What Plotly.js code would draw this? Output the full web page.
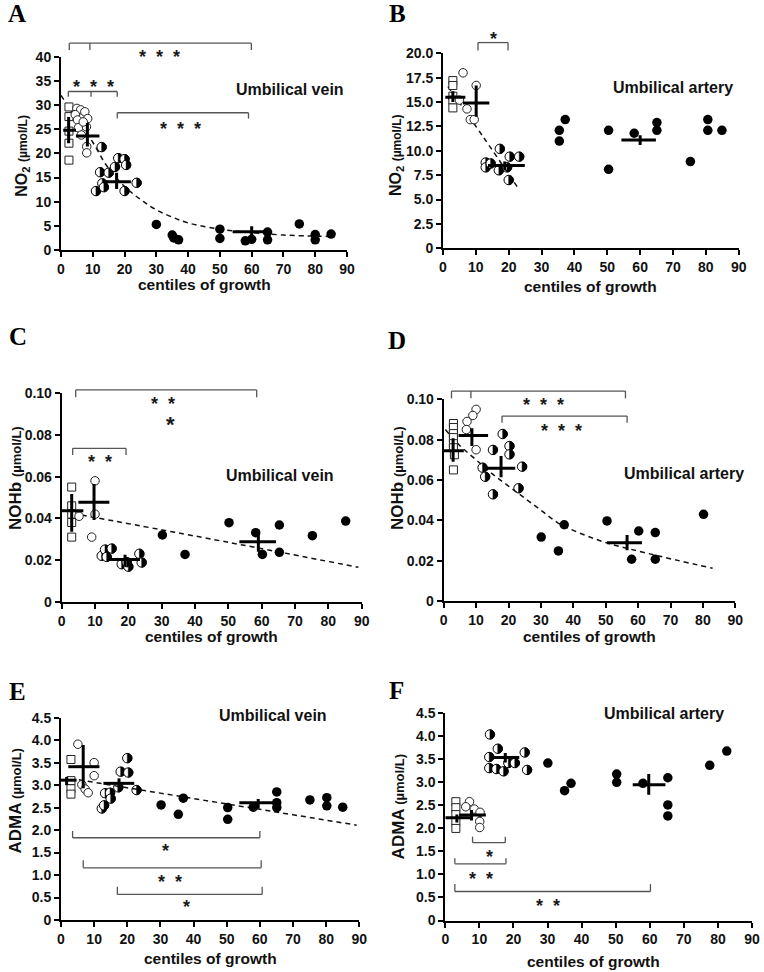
<!DOCTYPE html>
<html><head><meta charset="utf-8">
<script src="https://cdn.plot.ly/plotly-3.0.1.min.js"></script>
<style>html,body{margin:0;padding:0;background:#fff}</style>
</head><body><div id="chart" style="width:764px;height:972px"></div>
<script>
// ---------------- DATA ----------------
// Panel A: NO2, umbilical vein
const aSqX = [2.5, 2.5, 2.5, 2.5, 2.5];
const aSqY = [29.6, 27.6, 24.6, 22.1, 18.6];
const aCiX = [5, 6.2, 7.5, 8.4, 4.5, 5.2, 5.5, 6.4, 8, 7, 8.1, 8.1];
const aCiY = [29.3, 29, 28.6, 27.2, 28, 26.9, 25.3, 23.8, 25.5, 26.5, 21.4, 20.1];
const aHaX = [12.8, 12.3, 11, 13, 13.5, 15, 17, 18, 20, 20.5, 20, 23.8];
const aHaY = [21.3, 16.1, 12.2, 13.8, 13, 16, 17.2, 19, 18.8, 17.6, 12.2, 13.9];
const aFiX = [30, 35, 35.5, 37, 50, 50, 58, 60, 65, 65, 75, 80, 80, 85];
const aFiY = [5.3, 3.1, 2.5, 2.1, 4.3, 2.4, 1.9, 2.2, 3.7, 2.1, 5.4, 3.2, 2.1, 3.3];
const aMeanX = [2.4, 8.3, 17.5, 60];
const aMeanY = [24.8, 23.6, 14.1, 3.8];
const aTop = [27.5, 26.3, 16.0, 4.9];
const aBot = [22.1, 21.4, 12.6, 2.6];
const aLeft = [0.7, 4.7, 13.3, 54];
const aRight = [4.7, 12.1, 22.0, 66];
const aFitX = [0, 5, 10, 14, 18, 22, 26, 30, 35, 40, 50, 60, 70, 85];
const aFitY = [32, 27, 22.3, 17.8, 14.5, 12, 10, 8.3, 6.8, 5.6, 4.3, 3.6, 3.1, 2.8];

// Panel B: NO2, umbilical artery
const bSqX = [3, 3, 3, 3, 3];
const bSqY = [17.2, 16.7, 15.6, 15.2, 14.4];
const bCiX = [6.1, 10.1, 7.3, 8.3, 9.5, 5];
const bCiY = [18.0, 16.7, 14.3, 13.2, 13.2, 15.2];
const bHaX = [17.3, 20.3, 23.2, 13, 13, 14.5, 17, 20, 19.5];
const bHaY = [10.2, 9.4, 9.4, 8.8, 8.3, 8.7, 8.0, 7.0, 8.3];
const bFiX = [35.4, 35.4, 37.2, 50.4, 50.4, 58.2, 65.1, 65.1, 75.3, 80.6, 80.6, 84.9];
const bFiY = [12.1, 11.0, 13.2, 12.1, 8.1, 11.8, 12.9, 12.1, 8.9, 13.2, 12.1, 12.1];
const bMeanX = [3.0, 10.1, 18.8, 60];
const bMeanY = [15.5, 14.9, 8.5, 11.1];
const bTop = [16.1, 16.7, 8.9, 11.6];
const bBot = [15.0, 13.5, 8.0, 10.6];
const bLeft = [0.7, 6.1, 13.7, 54.3];
const bRight = [6.8, 14.1, 24.9, 64.8];
const bFitX = [1.5, 12.3, 23.2];
const bFitY = [16.6, 11.4, 6.0];

// Panel C: NOHb, umbilical vein
const cSqX = [3, 3, 3, 3, 3];
const cSqY = [0.055, 0.046, 0.042, 0.038, 0.031];
const cCiX = [10, 10, 5.2, 9];
const cCiY = [0.058, 0.042, 0.041, 0.031];
const cHaX = [12, 13, 15, 13.5, 18, 20, 19.5, 23.3, 24];
const cHaY = [0.022, 0.025, 0.0255, 0.0215, 0.018, 0.0168, 0.019, 0.023, 0.0188];
const cFiX = [30.2, 37, 50.2, 58.2, 60.2, 65.3, 65.3, 75.2, 85.2];
const cFiY = [0.032, 0.0227, 0.0379, 0.0331, 0.0227, 0.0368, 0.0237, 0.0317, 0.0387];
const cMeanX = [3.0, 9.7, 19, 59];
const cMeanY = [0.0437, 0.0477, 0.0203, 0.0288];
const cTop = [0.0517, 0.0565, 0.0225, 0.0344];
const cBot = [0.0336, 0.0392, 0.0170, 0.0240];
const cLeft = [0, 5.0, 14.3, 53.3];
const cRight = [6.5, 14.3, 23.5, 64.3];
const cFitX = [3.3, 50, 89];
const cFitY = [0.0424, 0.0285, 0.0165];

// Panel D: NOHb, umbilical artery
const dSqX = [3, 3, 3, 3, 3, 3, 3.3, 3];
const dSqY = [0.088, 0.086, 0.083, 0.081, 0.078, 0.076, 0.0725, 0.065];
const dCiX = [10, 9, 7.2, 7, 10];
const dCiY = [0.095, 0.092, 0.089, 0.085, 0.075];
const dHaX = [18.2, 15.2, 20.3, 20.3, 12, 12.8, 24.2, 15.2, 23.1];
const dHaY = [0.0828, 0.0749, 0.0768, 0.0727, 0.0661, 0.0616, 0.0666, 0.0529, 0.0559];
const dFiX = [30.1, 35.4, 37.2, 50.4, 58, 60.2, 65.3, 65.3, 80.2];
const dFiY = [0.0317, 0.0248, 0.0378, 0.0397, 0.0207, 0.0347, 0.0339, 0.0207, 0.043];
const dMeanX = [2.9, 8.7, 17.7, 56.6];
const dMeanY = [0.0745, 0.082, 0.0658, 0.0289];
const dTop = [0.0807, 0.0856, 0.0719, 0.0327];
const dBot = [0.0691, 0.0768, 0.0613, 0.0251];
const dLeft = [0, 4.6, 12.8, 50.4];
const dRight = [6.2, 13.7, 22.1, 61.2];
const dFitX = [0.5, 5, 10, 15, 20, 25, 30, 35, 40, 50, 63, 83];
const dFitY = [0.085, 0.077, 0.070, 0.063, 0.057, 0.051, 0.045, 0.039, 0.035, 0.029, 0.0236, 0.0162];

// Panel E: ADMA, umbilical vein
const eSqX = [3, 3, 3, 3];
const eSqY = [3.57, 3.1, 2.92, 2.8];
const eCiX = [5.1, 10, 10, 6.3, 7.3, 8.2];
const eCiY = [3.91, 3.5, 3.21, 3.01, 2.91, 2.83];
const eHaX = [20, 18, 20.3, 13.3, 14.8, 15, 12.3, 13, 22.8, 17.3];
const eHaY = [3.6, 3.3, 3.28, 2.82, 2.83, 2.7, 2.48, 2.55, 2.89, 2.95];
const eFiX = [30.2, 35.4, 36.9, 50.3, 50.3, 58, 65.1, 65.1, 65.1, 75.1, 80.2, 80.2, 85];
const eFiY = [2.56, 2.35, 2.71, 2.5, 2.24, 2.51, 2.85, 2.61, 2.5, 2.67, 2.72, 2.54, 2.51];
const eMeanX = [1.7, 6.7, 17.5, 59.5];
const eMeanY = [3.11, 3.41, 3.04, 2.61];
const eTop = [3.18, 3.89, 3.15, 2.69];
const eBot = [3.0, 2.93, 2.86, 2.48];
const eLeft = [0, 2.2, 12.8, 53.8];
const eRight = [4.7, 11.6, 22.1, 65.3];
const eFitX = [2.7, 89.2];
const eFitY = [3.15, 2.11];

// Panel F: ADMA, umbilical artery
const fSqX = [3.1, 3.1, 3.1, 3.1, 3.1];
const fSqY = [2.58, 2.45, 2.3, 2.15, 2.0];
const fCiX = [7.1, 6.0, 8.5, 10.2, 10.1, 10.1];
const fCiY = [2.58, 2.47, 2.42, 2.35, 2.15, 2.02];
const fHaX = [13.1, 15.4, 12.9, 18.5, 20.4, 23.3, 12.9, 15, 17.1, 24];
const fHaY = [4.04, 3.73, 3.55, 3.42, 3.42, 3.65, 3.31, 3.29, 3.24, 3.27];
const fFiX = [30.1, 35, 36.9, 50.3, 50.3, 58, 65.3, 65.3, 65.3, 77.6, 82.6];
const fFiY = [3.42, 2.82, 2.98, 3.18, 3.0, 2.98, 3.1, 2.51, 2.27, 3.37, 3.68];
const fMeanX = [3.4, 7.7, 17.6, 59.7];
const fMeanY = [2.23, 2.29, 3.54, 2.95];
const fTop = [2.3, 2.4, 3.64, 3.18];
const fBot = [2.13, 2.17, 3.43, 2.73];
const fLeft = [0, 4.1, 13.7, 55];
const fRight = [7.3, 11.9, 21.7, 64.6];

// axis tick labels
const xTicks = [0, 10, 20, 30, 40, 50, 60, 70, 80, 90];
const yTicksA = [0, 5, 10, 15, 20, 25, 30, 35, 40];
const yTextA = ['0', '5', '10', '15', '20', '25', '30', '35', '40'];
const yTicksB = [0, 2.5, 5, 7.5, 10, 12.5, 15, 17.5, 20];
const yTextB = ['0', '2.5', '5.0', '7.5', '10.0', '12.5', '15.0', '17.5', '20.0'];
const yTicksCD = [0, 0.02, 0.04, 0.06, 0.08, 0.10];
const yTextCD = ['0', '0.02', '0.04', '0.06', '0.08', '0.10'];
const yTicksEF = [0, 0.5, 1, 1.5, 2, 2.5, 3, 3.5, 4, 4.5];
const yTextEF = ['0', '0.5', '1.0', '1.5', '2.0', '2.5', '3.0', '3.5', '4.0', '4.5'];

// significance brackets (tick positions on x, bar level, tick end) and stars
const bracketsA = [{ticks: [2.6, 9.1, 59.9], y: 42.8, tip: 41.4}, {ticks: [2.3, 9.45, 17.7], y: 32.8, tip: 31.7}, {ticks: [17.7, 59.0], y: 28.4, tip: 27.2}];
const starsA = [{x: 31, y: 40.7, t: '***'}, {x: 10.2, y: 34.5, t: '***'}, {x: 37.5, y: 25.9, t: '***'}];
const bracketsB = [{ticks: [10.65, 19.8], y: 21.1, tip: 20.3}];
const starsB = [{x: 15.4, y: 21.9, t: '*'}];
const bracketsC = [{ticks: [4.2, 58.5], y: 0.1016, tip: 0.0981}, {ticks: [3.3, 19.3], y: 0.0736, tip: 0.0704}];
const starsC = [{x: 30.5, y: 0.0968, t: '**'}, {x: 32.5, y: 0.0872, t: '*', big: true}, {x: 11.5, y: 0.0688, t: '**'}];
const bracketsD = [{ticks: [2.4, 8.4, 56.1], y: 0.1041, tip: 0.1005}, {ticks: [18, 56.6], y: 0.0917, tip: 0.0884}];
const starsD = [{x: 30.9, y: 0.0992, t: '***'}, {x: 36.3, y: 0.0861, t: '***'}];
const bracketsE = [{ticks: [3.5, 60], y: 1.83, tip: 1.98}, {ticks: [6.7, 60.4], y: 1.16, tip: 1.33}, {ticks: [17, 60.7], y: 0.57, tip: 0.74}];
const starsE = [{x: 31.4, y: 1.63, t: '*'}, {x: 32.9, y: 0.93, t: '**'}, {x: 37.9, y: 0.37, t: '*'}];
const bracketsF = [{ticks: [8, 17.6], y: 1.69, tip: 1.82}, {ticks: [2.8, 17.8], y: 1.23, tip: 1.35}, {ticks: [2.8, 60.2], y: 0.63, tip: 0.79}];
const starsF = [{x: 12.9, y: 1.46, t: '*'}, {x: 10.6, y: 0.99, t: '**'}, {x: 30.1, y: 0.41, t: '**'}];

// ---------------- LAYOUT CONFIG ----------------
const W = 764, H = 972;
const panels = [
  {id: '', letter: 'A', box: [61, 347, 56.7, 250], yr: 40, yt: yTicksA, ytt: yTextA,
   sq: [aSqX, aSqY], ci: [aCiX, aCiY], ha: [aHaX, aHaY], fi: [aFiX, aFiY],
   m: [aMeanX, aMeanY, aTop, aBot, aLeft, aRight], fit: [aFitX, aFitY], br: bracketsA, st: starsA,
   lab: [17, 14], title: ['Umbilical vein', 290, 90], ytitle: ['NO<sub>2</sub> <span style="font-size:12px">(µmol/L)</span>', 21.7, 156, 16], xt: [204, 285]},
  {id: '2', letter: 'B', box: [443, 738.7, 53.3, 248.3], yr: 20, yt: yTicksB, ytt: yTextB,
   sq: [bSqX, bSqY], ci: [bCiX, bCiY], ha: [bHaX, bHaY], fi: [bFiX, bFiY],
   m: [bMeanX, bMeanY, bTop, bBot, bLeft, bRight], fit: [bFitX, bFitY], br: bracketsB, st: starsB,
   lab: [397, 14], title: ['Umbilical artery', 673, 87.3], ytitle: ['NO<sub>2</sub> <span style="font-size:12px">(µmol/L)</span>', 397, 155, 16], xt: [590.5, 286.7]},
  {id: '3', letter: 'C', box: [61.7, 361.7, 393.3, 601.7], yr: 0.10, yt: yTicksCD, ytt: yTextCD,
   sq: [cSqX, cSqY], ci: [cCiX, cCiY], ha: [cHaX, cHaY], fi: [cFiX, cFiY],
   m: [cMeanX, cMeanY, cTop, cBot, cLeft, cRight], fit: [cFitX, cFitY], br: bracketsC, st: starsC,
   lab: [17.5, 336.5], title: ['Umbilical vein', 279.7, 475], ytitle: ['NOHb <span style="font-size:13px">(µmol/L)</span>', 15, 478, 17], xt: [211.7, 636]},
  {id: '4', letter: 'D', box: [443.7, 735.3, 399.3, 601], yr: 0.10, yt: yTicksCD, ytt: yTextCD,
   sq: [dSqX, dSqY], ci: [dCiX, dCiY], ha: [dHaX, dHaY], fi: [dFiX, dFiY],
   m: [dMeanX, dMeanY, dTop, dBot, dLeft, dRight], fit: [dFitX, dFitY], br: bracketsD, st: starsD,
   lab: [397, 340], title: ['Umbilical artery', 683.7, 473.3], ytitle: ['NOHb <span style="font-size:13px">(µmol/L)</span>', 397, 478, 17], xt: [589.5, 636]},
  {id: '5', letter: 'E', box: [61, 359.3, 717.7, 920], yr: 4.5, yt: yTicksEF, ytt: yTextEF,
   sq: [eSqX, eSqY], ci: [eCiX, eCiY], ha: [eHaX, eHaY], fi: [eFiX, eFiY],
   m: [eMeanX, eMeanY, eTop, eBot, eLeft, eRight], fit: [eFitX, eFitY], br: bracketsE, st: starsE,
   lab: [17.5, 691.5], title: ['Umbilical vein', 272.7, 715.7], ytitle: ['ADMA<span style="font-size:13px"> (µmol/L)</span>', 15, 801.5, 17], xt: [210.2, 958.3]},
  {id: '6', letter: 'F', box: [445.3, 752, 713.3, 920.5], yr: 4.5, yt: yTicksEF, ytt: yTextEF,
   sq: [fSqX, fSqY], ci: [fCiX, fCiY], ha: [fHaX, fHaY], fi: [fFiX, fFiY],
   m: [fMeanX, fMeanY, fTop, fBot, fLeft, fRight], fit: null, br: bracketsF, st: starsF,
   lab: [396, 690], title: ['Umbilical artery', 664.2, 713.3], ytitle: ['ADMA<span style="font-size:13px"> (µmol/L)</span>', 398.7, 806.7, 17], xt: [593, 961]}
];

const SANS = 'Liberation Sans, Arial, sans-serif';
const R = 4.7; // half-filled marker radius (px)
// right-half glyph outline (pixels around the anchor point)
let halfPath = 'M0,' + (-R);
for (let k = 1; k <= 16; k++) {
  const a = -Math.PI / 2 + Math.PI * k / 16;
  halfPath += ' L' + (R * Math.cos(a)).toFixed(2) + ',' + (R * Math.sin(a)).toFixed(2);
}
halfPath += ' Z';

const data = [];
const layout = {
  width: W, height: H, margin: {l: 0, r: 0, t: 0, b: 0},
  paper_bgcolor: '#fff', plot_bgcolor: 'rgba(0,0,0,0)', showlegend: false,
  shapes: [], annotations: []
};

panels.forEach(p => {
  const xa = 'x' + p.id, ya = 'y' + p.id;
  const [x0, x1, yTop, yBot] = p.box;
  const axisCommon = {
    showline: true, linecolor: '#000', linewidth: 2, ticks: 'outside', ticklen: 5, tickwidth: 2, tickcolor: '#000',
    showgrid: false, zeroline: false, fixedrange: true,
    tickfont: {family: SANS, size: 14, weight: 'bold', color: '#111'}
  };
  layout['xaxis' + p.id] = Object.assign({domain: [x0 / W, x1 / W], range: [0, 90], anchor: ya,
    tickvals: xTicks, ticktext: xTicks.map(String)}, axisCommon);
  layout['yaxis' + p.id] = Object.assign({domain: [1 - yBot / H, 1 - yTop / H], range: [0, p.yr], anchor: xa,
    tickvals: p.yt, ticktext: p.ytt}, axisCommon);

  const common = {xaxis: xa, yaxis: ya, hoverinfo: 'skip', cliponaxis: false};
  if (p.fit) data.push(Object.assign({x: p.fit[0], y: p.fit[1], mode: 'lines',
      line: {color: '#111', width: 1.5, dash: '5px,4px', shape: 'spline'}}, common));
  data.push(Object.assign({x: p.sq[0], y: p.sq[1], mode: 'markers',
      marker: {symbol: 'square', size: 8, color: '#fff', line: {color: '#222', width: 1}}}, common));
  data.push(Object.assign({x: p.ci[0], y: p.ci[1], mode: 'markers',
      marker: {symbol: 'circle', size: 8.5, color: '#fff', line: {color: '#222', width: 1}}}, common));
  // half-filled circles: white disc + black right half, anchored on data points
  p.ha[0].forEach((hx, i) => {
    const hy = p.ha[1][i];
    const base = {xref: xa, yref: ya, xsizemode: 'pixel', ysizemode: 'pixel', xanchor: hx, yanchor: hy, layer: 'below'};
    layout.shapes.push(Object.assign({type: 'circle', x0: -R, x1: R, y0: -R, y1: R,
      fillcolor: '#fff', line: {color: '#000', width: 1}}, base));
    layout.shapes.push(Object.assign({type: 'path', path: halfPath,
      fillcolor: '#000', line: {color: '#000', width: 0.5}}, base));
  });
  data.push(Object.assign({x: p.fi[0], y: p.fi[1], mode: 'markers',
      marker: {symbol: 'circle', size: 9.5, color: '#000', line: {width: 0}}}, common));
  const [mx, my, top, bot, left, right] = p.m;
  data.push(Object.assign({x: mx, y: my, mode: 'markers', marker: {size: 1, color: 'rgba(0,0,0,0)'},
      error_y: {type: 'data', symmetric: false, array: top.map((v, i) => v - my[i]), arrayminus: bot.map((v, i) => my[i] - v), color: '#000', thickness: 3, width: 0},
      error_x: {type: 'data', symmetric: false, array: right.map((v, i) => v - mx[i]), arrayminus: left.map((v, i) => mx[i] - v), color: '#000', thickness: 3, width: 0}
  }, common));
  // brackets
  const xd = xa + ' domain', yd = ya + ' domain';
  p.br.forEach(b => {
    const lo = Math.min(...b.ticks), hi = Math.max(...b.ticks);
    layout.shapes.push({type: 'line', xref: xd, yref: yd, x0: lo / 90, x1: hi / 90, y0: b.y / p.yr, y1: b.y / p.yr, line: {color: '#555', width: 1.3}});
    b.ticks.forEach(t => layout.shapes.push({type: 'line', xref: xd, yref: yd, x0: t / 90, x1: t / 90, y0: b.y / p.yr, y1: b.tip / p.yr, line: {color: '#555', width: 1.3}}));
  });
  p.st.forEach(s => {
    const fs = s.big ? 22 : 18;
    layout.annotations.push({xref: xd, yref: yd, x: s.x / 90, y: s.y / p.yr, text: s.t.split('').join('\u00a0\u00a0'),
      showarrow: false, xanchor: 'center', yanchor: 'middle', yshift: -0.22 * fs,
      font: {family: SANS, size: fs, weight: 'bold', color: '#1a1a1a'}});
  });
  // panel letter
  layout.annotations.push({xref: 'paper', yref: 'paper', x: p.lab[0] / W, y: 1 - p.lab[1] / H, text: p.letter,
    showarrow: false, xanchor: 'center', yanchor: 'middle', font: {family: 'Liberation Serif, Times New Roman, serif', size: 25, weight: 'bold', color: '#000'}});
  // vessel label
  layout.annotations.push({xref: 'paper', yref: 'paper', x: p.title[1] / W, y: 1 - p.title[2] / H, text: p.title[0],
    showarrow: false, xanchor: 'center', yanchor: 'middle', font: {family: SANS, size: 16, weight: 'bold', color: '#111'}});
  // y title
  layout.annotations.push({xref: 'paper', yref: 'paper', x: p.ytitle[1] / W, y: 1 - p.ytitle[2] / H, text: p.ytitle[0], textangle: -90,
    showarrow: false, xanchor: 'center', yanchor: 'middle', font: {family: SANS, size: p.ytitle[3], weight: 'bold', color: '#111'}});
  // x title
  layout.annotations.push({xref: 'paper', yref: 'paper', x: p.xt[0] / W, y: 1 - p.xt[1] / H, text: 'centiles of growth',
    showarrow: false, xanchor: 'center', yanchor: 'middle', font: {family: SANS, size: 15.5, weight: 'bold', color: '#111'}});
});

Plotly.newPlot('chart', data, layout, {staticPlot: true, displayModeBar: false});
</script></body></html>
